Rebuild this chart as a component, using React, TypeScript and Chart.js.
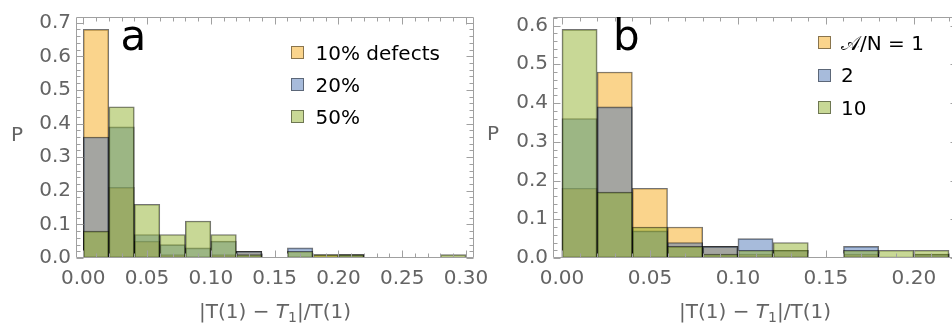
import React, { useEffect, useRef } from "react";
import { Chart, registerables } from "chart.js";

Chart.register(...registerables);

// ---------------- DATA ----------------
const BIN_WIDTH = 0.02;

// Panel a
const BINS_A = [0.0, 0.02, 0.04, 0.06, 0.08, 0.1, 0.12, 0.14, 0.16, 0.18, 0.2, 0.22, 0.24, 0.26, 0.28];
const A_10 = [0.68, 0.21, 0.05, 0.01, null, 0.01, 0.02, null, null, 0.01, 0.01, null, null, null, null];
const A_20 = [0.36, 0.39, 0.07, 0.04, 0.03, 0.05, 0.02, null, 0.03, null, 0.01, null, null, null, null];
const A_50 = [0.08, 0.45, 0.16, 0.07, 0.11, 0.07, 0.01, null, 0.02, 0.01, 0.01, null, null, null, 0.01];
const LEGEND_A = ["10% defects", "20%", "50%"];
const X_TICKS_A = [0.0, 0.05, 0.1, 0.15, 0.2, 0.25, 0.3];
const Y_TICKS_A = [0.0, 0.1, 0.2, 0.3, 0.4, 0.5, 0.6, 0.7];

// Panel b
const BINS_B = [0.0, 0.02, 0.04, 0.06, 0.08, 0.1, 0.12, 0.14, 0.16, 0.18, 0.2];
const B_1 = [0.18, 0.48, 0.18, 0.08, 0.03, 0.01, 0.02, null, 0.01, null, 0.01];
const B_2 = [0.36, 0.39, 0.07, 0.04, 0.03, 0.05, 0.02, null, 0.03, null, 0.01];
const B_10 = [0.59, 0.17, 0.08, 0.03, 0.01, 0.02, 0.04, null, 0.02, 0.02, 0.02];
const LEGEND_B = ["\u{1D49C}/N = 1", "2", "10"];
const X_TICKS_B = [0.0, 0.05, 0.1, 0.15, 0.2];
const Y_TICKS_B = [0.0, 0.1, 0.2, 0.3, 0.4, 0.5, 0.6];

// ---------------- STYLE ----------------
const FONT = "DejaVu Sans";
const COLORS = ["rgba(245,169,25,0.5)", "rgba(79,119,183,0.5)", "rgba(145,177,45,0.5)"];
const EDGE = "rgba(0,0,0,0.55)";
const TICK_TEXT = "rgb(100,100,100)";
const FRAME = "rgb(160,160,160)";

function toPoints(bins: number[], vals: (number | null)[]) {
  const pts: { x: number; y: number }[] = [];
  bins.forEach((b, i) => {
    const v = vals[i];
    if (v !== null && v !== undefined) pts.push({ x: b + BIN_WIDTH / 2, y: v });
  });
  return pts;
}

const frameTicks = {
  id: "frameTicks",
  afterDraw(chart: any) {
    const { ctx, chartArea: a } = chart;
    const xs = chart.scales.x;
    const ys = chart.scales.y;
    const L = Math.round(a.left) + 0.5;
    const R = Math.round(a.right) - 0.5;
    const T = Math.round(a.top) + 0.5;
    const B = Math.round(a.bottom) - 0.5;
    ctx.save();
    ctx.strokeStyle = FRAME;
    ctx.lineWidth = 1;
    ctx.beginPath();
    ctx.rect(L, T, R - L, B - T);
    ctx.stroke();
    const major = 7;
    const minor = 4;
    ctx.beginPath();
    for (let i = 0; ; i++) {
      const v = i * 0.01;
      if (v > xs.max + 1e-9) break;
      const px = Math.round(xs.getPixelForValue(v)) + 0.5;
      const len = i % 5 === 0 ? major : minor;
      ctx.moveTo(px, B);
      ctx.lineTo(px, B - len);
      ctx.moveTo(px, T);
      ctx.lineTo(px, T + len);
    }
    for (let i = 0; ; i++) {
      const v = i * 0.02;
      if (v > ys.max + 1e-9) break;
      const py = Math.round(ys.getPixelForValue(v)) + 0.5;
      const len = i % 5 === 0 ? major : minor;
      ctx.moveTo(L, py);
      ctx.lineTo(L + len, py);
      ctx.moveTo(R, py);
      ctx.lineTo(R - len, py);
    }
    ctx.stroke();
    ctx.restore();
  },
};

type PanelProps = {
  width: number;
  height: number;
  bins: number[];
  series: (number | null)[][];
  xMin: number;
  xMax: number;
  yMax: number;
  xTicks: number[];
  yTicks: number[];
  yAxisWidth: number;
  padTop: number;
  padRight: number;
  xAxisHeight: number;
};

function Panel(p: PanelProps) {
  const ref = useRef<HTMLCanvasElement>(null);
  useEffect(() => {
    if (!ref.current) return;
    const datasets = p.series.map((s, i) => ({
      data: toPoints(p.bins, s),
      backgroundColor: COLORS[i],
      borderColor: EDGE,
      borderWidth: 1,
      borderSkipped: false as any,
      barPercentage: 1,
      categoryPercentage: 1,
      grouped: false,
      order: p.series.length - 1 - i,
    }));
    const chart = new Chart(ref.current, {
      type: "bar",
      data: { datasets },
      options: {
        animation: false,
        responsive: false,
        events: [],
        layout: { padding: { left: 0, top: p.padTop, right: p.padRight, bottom: 0 } },
        plugins: { legend: { display: false }, tooltip: { enabled: false }, title: { display: false } },
        scales: {
          x: {
            type: "linear",
            offset: false,
            min: p.xMin,
            max: p.xMax,
            grid: { display: false, drawTicks: false },
            border: { display: false },
            afterBuildTicks: (s: any) => {
              s.ticks = p.xTicks.map((v) => ({ value: v }));
            },
            afterFit: (s: any) => {
              s.height = p.xAxisHeight;
            },
            ticks: {
              includeBounds: false,
              autoSkip: false,
              maxRotation: 0,
              padding: 9,
              color: TICK_TEXT,
              font: { family: FONT, size: 20 },
              callback: (v: any) => Number(v).toFixed(2),
            },
          },
          y: {
            type: "linear",
            min: 0,
            max: p.yMax,
            grid: { display: false, drawTicks: false },
            border: { display: false },
            afterBuildTicks: (s: any) => {
              s.ticks = p.yTicks.map((v) => ({ value: v }));
            },
            afterFit: (s: any) => {
              s.width = p.yAxisWidth;
            },
            ticks: {
              includeBounds: false,
              autoSkip: false,
              padding: 5,
              color: TICK_TEXT,
              font: { family: FONT, size: 20 },
              callback: (v: any) => Number(v).toFixed(1),
            },
          },
        },
      },
      plugins: [frameTicks],
    } as any);
    return () => chart.destroy();
  }, []);
  return <canvas ref={ref} width={p.width} height={p.height} />;
}

const txt: React.CSSProperties = {
  position: "absolute",
  fontFamily: FONT,
  whiteSpace: "nowrap",
  margin: 0,
};

function XTitle({ center }: { center: number }) {
  return (
    <div style={{ ...txt, left: center - 150, width: 300, top: 301, fontSize: 20, lineHeight: "20px", color: TICK_TEXT, textAlign: "center" }}>
      |T(1) − <i>T</i>
      <sub style={{ fontSize: "0.7em", verticalAlign: "-0.3em", lineHeight: 0 }}>1</sub>|/T(1)
    </div>
  );
}

function Legend({ items, swX, textX, rows }: { items: string[]; swX: number; textX: number; rows: number[] }) {
  return (
    <>
      {items.map((t, i) => (
        <React.Fragment key={i}>
          <div
            style={{
              position: "absolute",
              left: swX,
              top: rows[i] - 6.5,
              width: 13,
              height: 13,
              boxSizing: "border-box",
              background: COLORS[i],
              border: "1px solid rgba(0,0,0,0.45)",
            }}
          />
          <div style={{ ...txt, left: textX, top: rows[i] - 9.6, fontSize: 20, lineHeight: "20px", color: "#000" }}>{t}</div>
        </React.Fragment>
      ))}
    </>
  );
}

export default function App() {
  return (
    <div style={{ position: "absolute", left: 0, top: 0, width: 952, height: 329, overflow: "hidden", background: "#fff" }}>
      <div style={{ position: "absolute", left: 0, top: 0 }}>
        <Panel
          width={500}
          height={329}
          bins={BINS_A}
          series={[A_10, A_20, A_50]}
          xMin={-0.0057}
          xMax={0.3063}
          yMax={0.717}
          xTicks={X_TICKS_A}
          yTicks={Y_TICKS_A}
          yAxisWidth={76}
          padTop={11}
          padRight={26}
          xAxisHeight={71}
        />
      </div>
      <div style={{ position: "absolute", left: 480, top: 0 }}>
        <Panel
          width={480}
          height={329}
          bins={BINS_B}
          series={[B_1, B_2, B_10]}
          xMin={-0.0051}
          xMax={0.2251}
          yMax={0.622}
          xTicks={X_TICKS_B}
          yTicks={Y_TICKS_B}
          yAxisWidth={73}
          padTop={7}
          padRight={2}
          xAxisHeight={71}
        />
      </div>
      <div style={{ ...txt, left: 11, top: 124.4, fontSize: 20, lineHeight: "20px", color: TICK_TEXT }}>P</div>
      <div style={{ ...txt, left: 487, top: 123.4, fontSize: 20, lineHeight: "20px", color: TICK_TEXT }}>P</div>
      <XTitle center={275} />
      <XTitle center={755} />
      <div style={{ ...txt, left: 120.5, top: 14.5, fontSize: 42, lineHeight: "42px", color: "#000" }}>a</div>
      <div style={{ ...txt, left: 613, top: 14.5, fontSize: 42, lineHeight: "42px", color: "#000" }}>b</div>
      <Legend items={LEGEND_A} swX={291} textX={315.5} rows={[52.3, 84.5, 116.7]} />
      <Legend items={LEGEND_B} swX={818} textX={841} rows={[42.3, 75, 107.3]} />
    </div>
  );
}
